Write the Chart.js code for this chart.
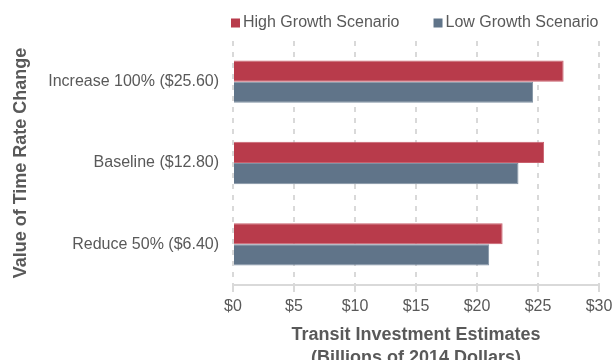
<!DOCTYPE html>
<html>
<head>
<meta charset="utf-8">
<script src="https://cdn.jsdelivr.net/npm/chart.js@4"></script>
<style>
  body { margin: 0; background: #fff; }
  canvas { display: block; }
</style>
</head>
<body>
<canvas id="myChart" width="613" height="360"></canvas>
<script>
// values (billions of 2014 dollars)
const categories = ["Increase 100% ($25.60)", "Baseline ($12.80)", "Reduce 50% ($6.40)"];
const highGrowth = [27.1, 25.5, 22.1];
const lowGrowth = [24.6, 23.4, 21.0];
const xTicks = [0, 5, 10, 15, 20, 25, 30];

const textColor = "#595959";
const fontFamily = "'Liberation Sans', Arial, sans-serif";

// small legend drawn above the plot, boxes close to the text like the original
const topLegend = {
    id: "topLegend",
    afterDraw(chart) {
        const ctx = chart.ctx;
        const area = chart.chartArea;
        ctx.save();
        ctx.font = "16px " + fontFamily;
        ctx.textBaseline = "middle";
        ctx.textAlign = "left";
        let x = area.left - 2;
        const y = 23;
        chart.data.datasets.forEach((ds) => {
            ctx.fillStyle = ds.backgroundColor;
            ctx.fillRect(x, y - 4.5, 9, 9);
            ctx.fillStyle = textColor;
            ctx.fillText(ds.label, x + 12, y);
            x += 12 + ctx.measureText(ds.label).width + 34;
        });
        ctx.restore();
    },
};

new Chart("myChart", {
    type: "bar",
    data: {
        labels: categories,
        datasets: [
            {
                label: "High Growth Scenario",
                data: highGrowth,
                backgroundColor: "#b83b4b",
                borderColor: "#c9606d",
                borderWidth: 1,
                categoryPercentage: 0.52,
                barPercentage: 1.0,
            },
            {
                label: "Low Growth Scenario",
                data: lowGrowth,
                backgroundColor: "#607489",
                borderColor: "#8091a3",
                borderWidth: 1,
                categoryPercentage: 0.52,
                barPercentage: 1.0,
            },
        ],
    },
    options: {
        indexAxis: "y",
        responsive: false,
        animation: false,
        devicePixelRatio: 1,
        layout: { padding: { top: 41, left: 0, right: 0, bottom: 0 } },
        plugins: {
            legend: { display: false },
            tooltip: { enabled: false },
        },
        scales: {
            x: {
                min: 0,
                max: 30,
                afterBuildTicks: (scale) => {
                    scale.ticks = xTicks.map((v) => ({ value: v }));
                },
                afterFit: (scale) => {
                    scale.height = 75;
                    scale.paddingRight = 14;
                },
                ticks: {
                    color: textColor,
                    font: { size: 16, family: fontFamily },
                    padding: 5,
                    callback: (v) => "$" + v,
                },
                grid: {
                    color: "#d9d9d9",
                    lineWidth: 2,
                    tickLength: 7,
                    tickBorderDash: [],
                },
                border: {
                    display: true,
                    color: "#d9d9d9",
                    width: 2,
                    dash: [5, 6],
                },
                title: {
                    display: true,
                    text: ["Transit Investment Estimates", "(Billions of 2014 Dollars)"],
                    color: textColor,
                    font: { size: 18, weight: "bold", family: fontFamily, lineHeight: 1.25 },
                    padding: { top: 0, bottom: -9 },
                },
            },
            y: {
                afterFit: (scale) => {
                    scale.width = 233;
                },
                ticks: {
                    color: textColor,
                    font: { size: 16, family: fontFamily },
                    padding: 6,
                },
                grid: { display: false },
                border: { display: false },
                title: {
                    display: true,
                    text: "Value of Time Rate Change",
                    color: textColor,
                    font: { size: 18, weight: "bold", family: fontFamily, lineHeight: 1.2 },
                    padding: { top: 10, bottom: 0 },
                },
            },
        },
    },
    plugins: [topLegend],
});
</script>
</body>
</html>
